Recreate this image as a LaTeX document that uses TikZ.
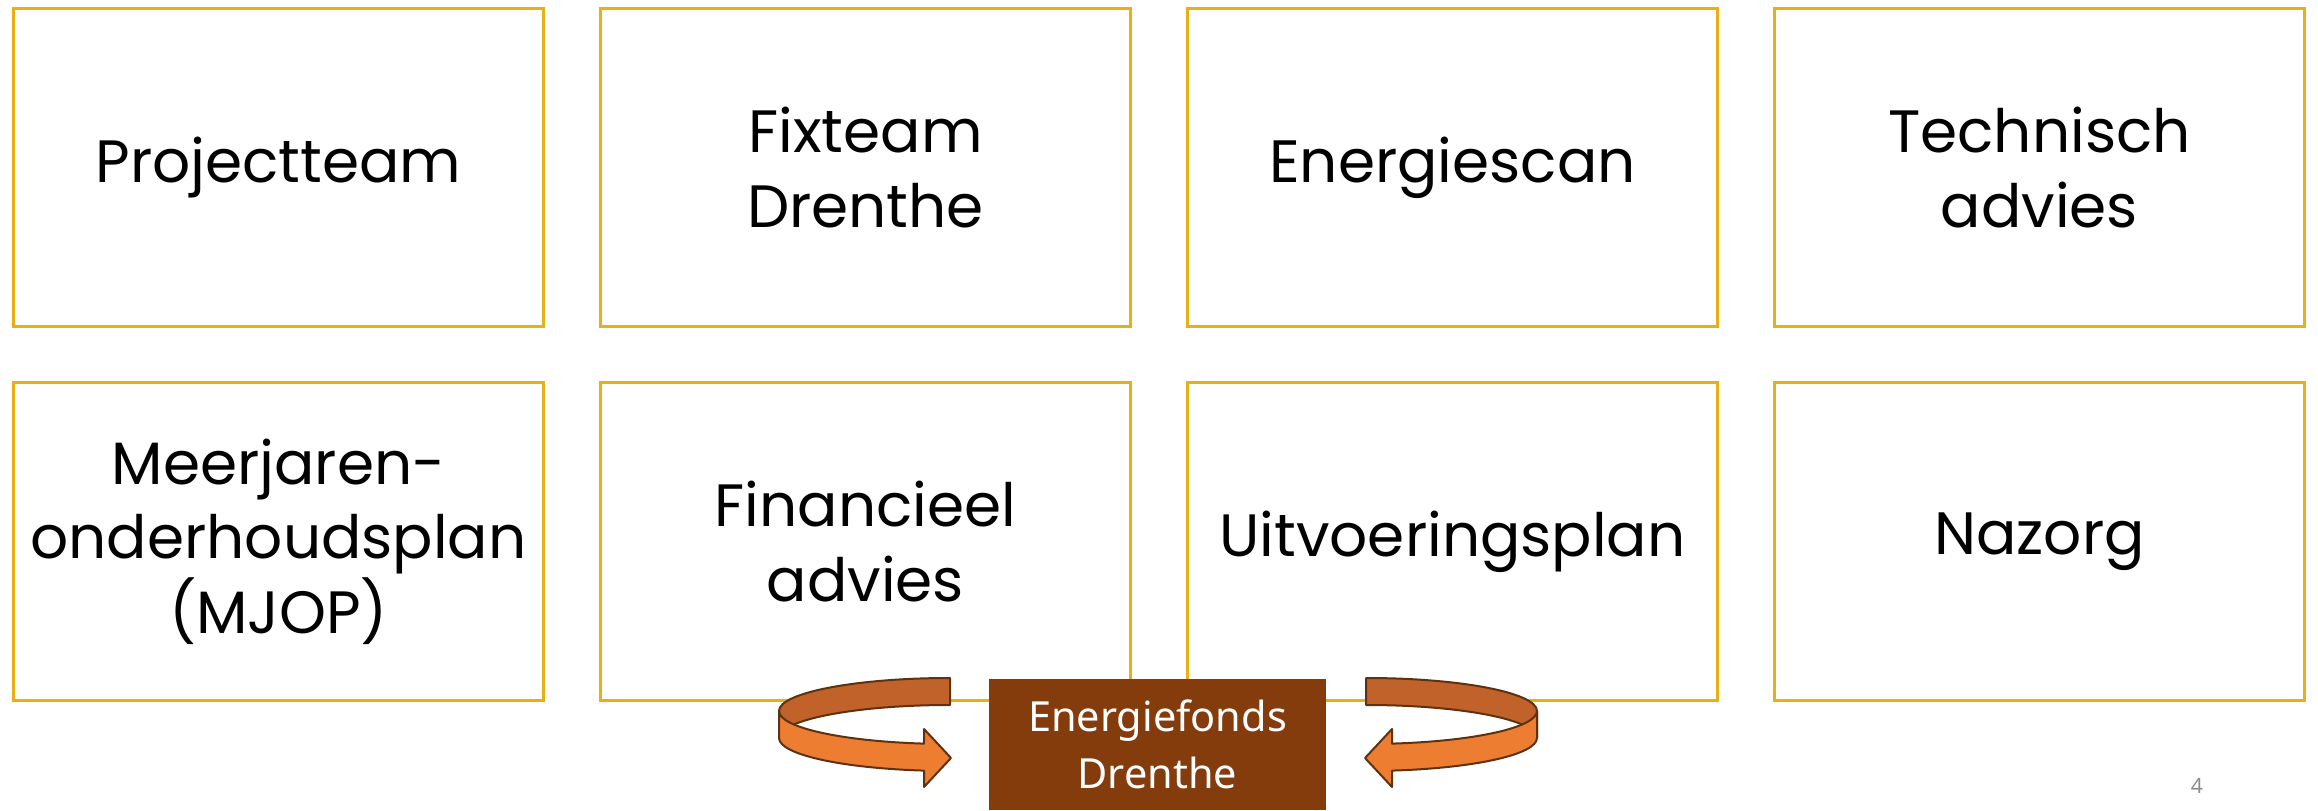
\documentclass[tikz,border=0pt]{standalone}
\usepackage{fontspec}
\setmainfont{Poppins}
\newfontfamily\fondsfont{Noto Sans}
\usetikzlibrary{positioning}

\definecolor{gold}{HTML}{E8B014}
\definecolor{fondsbrown}{HTML}{843C0C}
\definecolor{ribbonback}{HTML}{C0622A}
\definecolor{ribbonfront}{HTML}{ED7D31}
\definecolor{ribbonline}{HTML}{5E3210}
\definecolor{pagegray}{HTML}{8C8C8C}

\begin{document}
\begin{tikzpicture}[x=0.1mm,y=0.1mm,
    stap/.style={draw=gold, line width=0.3mm, minimum width=53mm, minimum height=31.8mm,
      inner sep=0pt, align=center, font=\fontsize{17}{21.2}\selectfont},
    fonds/.style={fill=fondsbrown, text=white, minimum width=33.7mm, minimum height=13.1mm,
      inner sep=0pt, align=center, font=\fondsfont\fontsize{11.8}{16.4}\selectfont},
    ribbon/.style={draw=ribbonline, line width=0.2mm, line join=round}]
    \useasboundingbox (0,0) rectangle (2318,810);
    % top row
    \node[stap] (projectteam) at (278.5,642.5) {Projectteam};
    \node[stap, right=5.4mm of projectteam] (fixteam) {Fixteam\\Drenthe};
    \node[stap, right=5.4mm of fixteam] (energiescan) {Energiescan};
    \node[stap, right=5.4mm of energiescan] (technisch) {Technisch\\advies};
    % bottom row
    \node[stap, below=5.3mm of projectteam] (mjop) {Meerjaren-\\onderhoudsplan\\(MJOP)};
    \node[stap, right=5.4mm of mjop] (financieel) {Financieel\\advies};
    \node[stap, right=5.4mm of financieel] (uitvoering) {Uitvoeringsplan};
    \node[stap, right=5.4mm of uitvoering] (nazorg) {Nazorg};
    % fund with the two turning arrows
    \node[fonds] (fonds) at (1157.5,65.5) {Energiefonds\\Drenthe};
    \foreach \flip/\dx in {1/0,-1/2316} {
      \begin{scope}[shift={(\dx,0)}, xscale=\flip]
        \draw[ribbon, fill=ribbonback] (950,132)
          arc[start angle=90, end angle=180, x radius=171, y radius=33] -- (779,72)
          arc[start angle=180, end angle=90, x radius=171, y radius=33] -- cycle;
        \draw[ribbon, fill=ribbonfront] (779,99)
          arc[start angle=180, end angle=261.25, x radius=171, y radius=33]
          -- (924,81) -- (951,52) -- (924,23) -- (924,39.4)
          arc[start angle=261.25, end angle=180, x radius=171, y radius=33] -- cycle;
      \end{scope}
    }
    \node[text=pagegray, font=\fondsfont\fontsize{6}{7}\selectfont] (pagina) at (2197,24.5) {4};
\end{tikzpicture}
\end{document}
